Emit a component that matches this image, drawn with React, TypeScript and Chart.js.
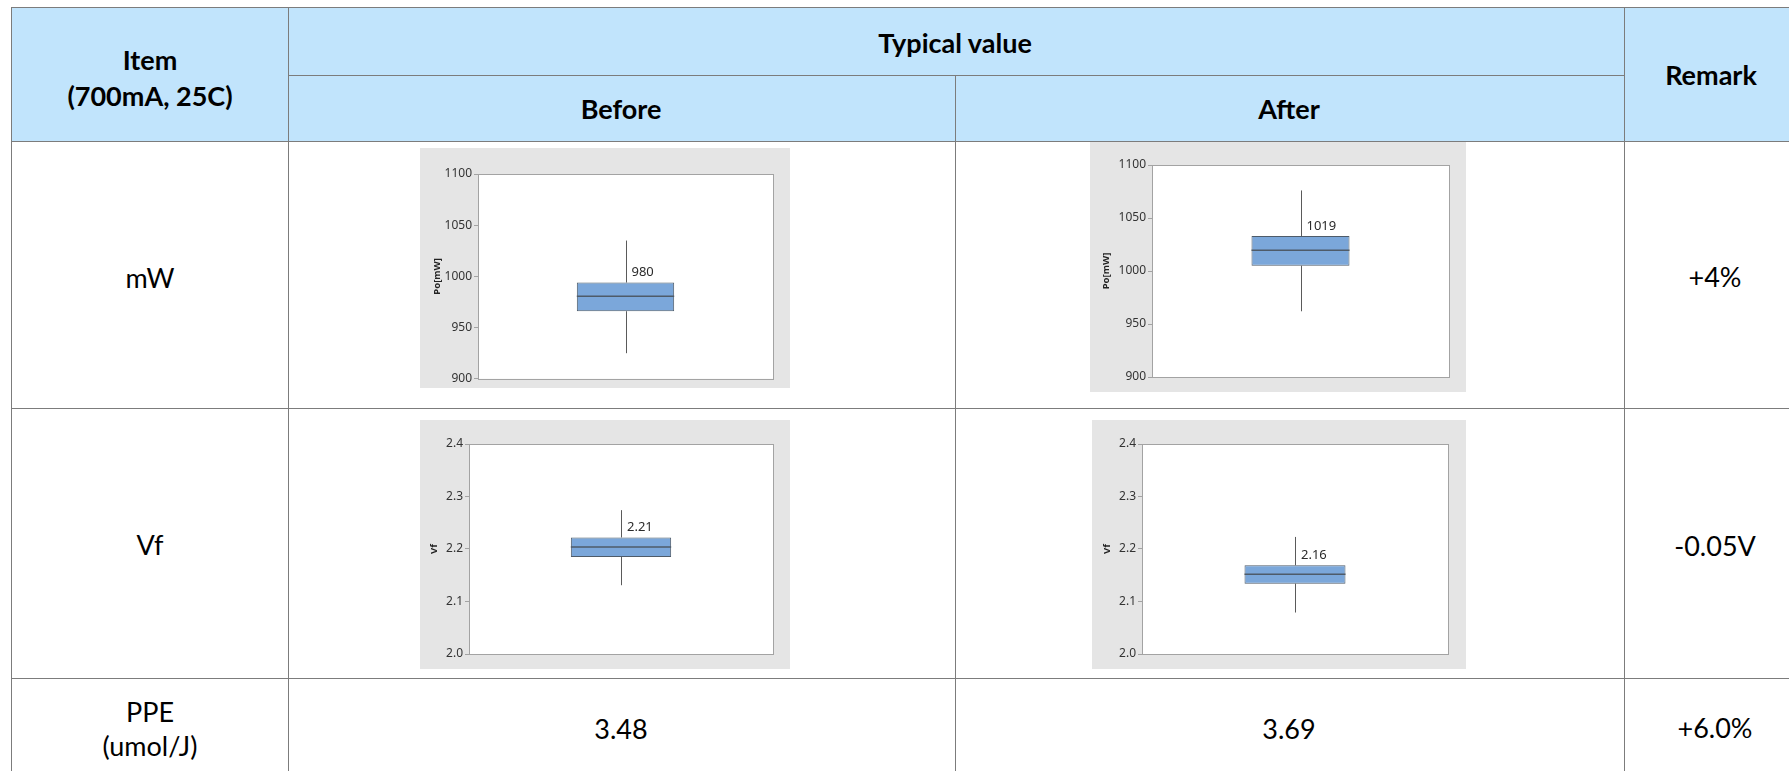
import React, { useEffect, useRef } from "react";
import { Chart, registerables } from "chart.js";

Chart.register(...registerables);

// ---------- data ----------
const GROUPS = ["Before", "After"];

const MW_MIN = [925, 962];
const MW_Q1 = [966, 1005];
const MW_MEDIAN = [980.5, 1019.5];
const MW_Q3 = [994, 1033];
const MW_MAX = [1035, 1076];
const MW_LABELS = ["980", "1019"];
const MW_TICKS = [900, 950, 1000, 1050, 1100];
const MW_TICK_LABELS = ["900", "950", "1000", "1050", "1100"];

const VF_MIN = [2.131, 2.079];
const VF_Q1 = [2.185, 2.134];
const VF_MEDIAN = [2.204, 2.152];
const VF_Q3 = [2.222, 2.169];
const VF_MAX = [2.274, 2.223];
const VF_LABELS = ["2.21", "2.16"];
const VF_TICKS = [2.0, 2.1, 2.2, 2.3, 2.4];
const VF_TICK_LABELS = ["2.0", "2.1", "2.2", "2.3", "2.4"];

const ITEMS = ["mW", "Vf", "PPE", "(umol/J)"];
const PPE_VALUES = ["3.48", "3.69"];
const REMARKS = ["+4%", "-0.05V", "+6.0%"];

// ---------- styles ----------
const LINE = "#7C7C7C";
const HEADER_BG = "#C1E4FC";
const FONT = "Lato, 'Noto Sans', sans-serif";

type BoxProps = {
  left: number;
  top: number;
  width: number;
  height: number;
  padL: number;
  padR: number;
  padT: number;
  padB: number;
  titlePad: number;
  axisTitle: string;
  group: string;
  min: number;
  q1: number;
  med: number;
  q3: number;
  max: number;
  label: string;
  ticks: number[];
  tickLabels: string[];
};

function BoxChart(p: BoxProps) {
  const ref = useRef<HTMLCanvasElement | null>(null);
  useEffect(() => {
    if (!ref.current) return;
    const boxPlugin = {
      id: "boxPlugin",
      beforeDraw(chart: any) {
        const ctx = chart.ctx;
        const a = chart.chartArea;
        ctx.save();
        ctx.fillStyle = "#E5E5E5";
        ctx.fillRect(0, 0, chart.width, chart.height);
        ctx.fillStyle = "#FFFFFF";
        ctx.fillRect(a.left, a.top, a.right - a.left, a.bottom - a.top);
        ctx.restore();
      },
      beforeDatasetsDraw(chart: any) {
        const ctx = chart.ctx;
        const y = chart.scales.y;
        const bar = chart.getDatasetMeta(0).data[0];
        const cx = Math.round(bar.x) + 0.5;
        ctx.save();
        ctx.strokeStyle = "#5A5A5A";
        ctx.lineWidth = 1;
        ctx.beginPath();
        ctx.moveTo(cx, y.getPixelForValue(p.max));
        ctx.lineTo(cx, y.getPixelForValue(p.q3));
        ctx.moveTo(cx, y.getPixelForValue(p.q1));
        ctx.lineTo(cx, y.getPixelForValue(p.min));
        ctx.stroke();
        ctx.restore();
      },
      afterDatasetsDraw(chart: any) {
        const ctx = chart.ctx;
        const y = chart.scales.y;
        const a = chart.chartArea;
        const bar = chart.getDatasetMeta(0).data[0];
        const half = bar.width / 2;
        const my = y.getPixelForValue(p.med);
        ctx.save();
        ctx.strokeStyle = "#4E5B69";
        ctx.lineWidth = 1.5;
        ctx.beginPath();
        ctx.moveTo(bar.x - half, my);
        ctx.lineTo(bar.x + half, my);
        ctx.stroke();
        ctx.strokeStyle = "#A3A3A3";
        ctx.lineWidth = 1;
        ctx.strokeRect(
          Math.round(a.left) + 0.5,
          Math.round(a.top) + 0.5,
          Math.round(a.right - a.left),
          Math.round(a.bottom - a.top)
        );
        ctx.fillStyle = "#2B2B2B";
        ctx.font = "13px 'Noto Sans'";
        ctx.textAlign = "left";
        ctx.textBaseline = "middle";
        ctx.fillText(p.label, bar.x + 6, y.getPixelForValue(p.q3) - 10);
        ctx.restore();
      },
    };
    const chart = new Chart(ref.current, {
      type: "bar",
      data: {
        labels: [p.group],
        datasets: [
          {
            data: [[p.q1, p.q3]] as any,
            backgroundColor: "#7BA7DA",
            borderColor: "#4E5B69",
            borderWidth: 1,
            borderSkipped: false,
            barPercentage: 0.33,
            categoryPercentage: 1,
          },
        ],
      },
      options: {
        animation: false,
        responsive: false,
        maintainAspectRatio: false,
        devicePixelRatio: 1,
        layout: { padding: { left: 0, right: p.padR, top: p.padT, bottom: p.padB } },
        plugins: {
          legend: { display: false },
          tooltip: { enabled: false },
        },
        scales: {
          x: { display: false, offset: true },
          y: {
            min: p.ticks[0],
            max: p.ticks[p.ticks.length - 1],
            afterBuildTicks(scale: any) {
              scale.ticks = p.ticks.map((v) => ({ value: v }));
            },
            afterFit(scale: any) {
              scale.width = p.padL;
            },
            ticks: {
              callback: (_v: any, i: number) => p.tickLabels[i],
              font: { family: "'Noto Sans'", size: 12 },
              color: "#333333",
              padding: 2,
            },
            grid: { drawOnChartArea: false, tickLength: 4, color: "#A3A3A3" },
            border: { display: true, color: "#A3A3A3" },
            title: {
              display: true,
              text: p.axisTitle,
              font: { family: "'Noto Sans'", size: 9.5, weight: "bold" },
              color: "#222222",
              padding: { top: p.titlePad, bottom: 0 },
            },
          },
        },
      },
      plugins: [boxPlugin],
    } as any);
    return () => chart.destroy();
  }, []);
  return (
    <canvas
      ref={ref}
      width={p.width}
      height={p.height}
      style={{ position: "absolute", left: p.left, top: p.top, width: p.width, height: p.height }}
    />
  );
}

function Txt({ x, y, text, bold, size }: { x: number; y: number; text: string; bold?: boolean; size?: number }) {
  return (
    <div
      style={{
        position: "absolute",
        left: x,
        top: y,
        transform: "translate(-50%, -50%)",
        whiteSpace: "nowrap",
        fontFamily: FONT,
        fontWeight: bold ? 700 : 400,
        fontSize: size ?? 27,
        lineHeight: 1,
        color: "#000",
      }}
    >
      {text}
    </div>
  );
}

function HLine({ x1, x2, y }: { x1: number; x2: number; y: number }) {
  return <div style={{ position: "absolute", left: x1, top: y, width: x2 - x1, height: 1, background: LINE }} />;
}
function VLine({ x, y1, y2 }: { x: number; y1: number; y2: number }) {
  return <div style={{ position: "absolute", left: x, top: y1, width: 1, height: y2 - y1, background: LINE }} />;
}

export default function App() {
  const W = 1789;
  const H = 771;
  return (
    <div
      style={{
        position: "fixed",
        left: 0,
        top: 0,
        width: W,
        height: H,
        overflow: "hidden",
        background: "#fff",
      }}
    >
      {/* header background */}
      <div style={{ position: "absolute", left: 11, top: 7, width: W - 11, height: 134, background: HEADER_BG }} />

      {/* grid lines */}
      <HLine x1={11} x2={W} y={7} />
      <HLine x1={288} x2={1624} y={75} />
      <HLine x1={11} x2={W} y={141} />
      <HLine x1={11} x2={W} y={408} />
      <HLine x1={11} x2={W} y={678} />
      <VLine x={11} y1={7} y2={H} />
      <VLine x={288} y1={7} y2={H} />
      <VLine x={955} y1={75} y2={H} />
      <VLine x={1624} y1={7} y2={H} />

      {/* header text */}
      <Txt x={150} y={59} text="Item" bold />
      <Txt x={150} y={95} text="(700mA, 25C)" bold />
      <Txt x={955} y={42} text="Typical value" bold />
      <Txt x={621} y={108} text={GROUPS[0]} bold />
      <Txt x={1289} y={108} text={GROUPS[1]} bold />
      <Txt x={1711} y={74} text="Remark" bold />

      {/* row labels */}
      <Txt x={150} y={277} text={ITEMS[0]} />
      <Txt x={150} y={544} text={ITEMS[1]} />
      <Txt x={150} y={711} text={ITEMS[2]} />
      <Txt x={150} y={745} text={ITEMS[3]} />

      {/* PPE values */}
      <Txt x={621} y={728} text={PPE_VALUES[0]} />
      <Txt x={1289} y={728} text={PPE_VALUES[1]} />

      {/* remarks */}
      <Txt x={1715} y={276} text={REMARKS[0]} />
      <Txt x={1715} y={545} text={REMARKS[1]} />
      <Txt x={1715} y={727} text={REMARKS[2]} />

      {/* box plots */}
      <BoxChart
        left={420} top={148} width={370} height={240}
        padL={58} padR={17} padT={26} padB={7} titlePad={12}
        axisTitle="Po[mW]" group={GROUPS[0]}
        min={MW_MIN[0]} q1={MW_Q1[0]} med={MW_MEDIAN[0]} q3={MW_Q3[0]} max={MW_MAX[0]}
        label={MW_LABELS[0]} ticks={MW_TICKS} tickLabels={MW_TICK_LABELS}
      />
      <BoxChart
        left={1090} top={142} width={376} height={250}
        padL={62} padR={17} padT={23} padB={15} titlePad={11}
        axisTitle="Po[mW]" group={GROUPS[1]}
        min={MW_MIN[1]} q1={MW_Q1[1]} med={MW_MEDIAN[1]} q3={MW_Q3[1]} max={MW_MAX[1]}
        label={MW_LABELS[1]} ticks={MW_TICKS} tickLabels={MW_TICK_LABELS}
      />
      <BoxChart
        left={420} top={420} width={370} height={249}
        padL={49} padR={17} padT={24} padB={15} titlePad={9}
        axisTitle="Vf" group={GROUPS[0]}
        min={VF_MIN[0]} q1={VF_Q1[0]} med={VF_MEDIAN[0]} q3={VF_Q3[0]} max={VF_MAX[0]}
        label={VF_LABELS[0]} ticks={VF_TICKS} tickLabels={VF_TICK_LABELS}
      />
      <BoxChart
        left={1092} top={420} width={374} height={249}
        padL={50} padR={18} padT={24} padB={15} titlePad={10}
        axisTitle="Vf" group={GROUPS[1]}
        min={VF_MIN[1]} q1={VF_Q1[1]} med={VF_MEDIAN[1]} q3={VF_Q3[1]} max={VF_MAX[1]}
        label={VF_LABELS[1]} ticks={VF_TICKS} tickLabels={VF_TICK_LABELS}
      />
    </div>
  );
}
